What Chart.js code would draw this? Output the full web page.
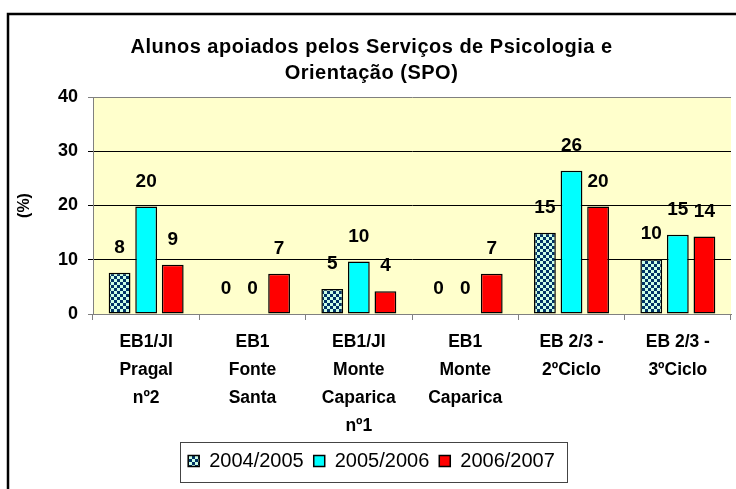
<!DOCTYPE html>
<html>
<head>
<meta charset="utf-8">
<script src="https://cdn.jsdelivr.net/npm/chart.js@4/dist/chart.umd.min.js"></script>
<style>
  html, body { margin: 0; padding: 0; background: #fff; }
  #wrap { width: 736px; height: 489px; position: relative; }
</style>
</head>
<body>
<div id="wrap"><canvas id="chart"></canvas></div>
<script>
// school names, split the way the chart wraps them
const schools = [
  ['EB1/JI', 'Pragal', 'nº2'],
  ['EB1', 'Fonte', 'Santa'],
  ['EB1/JI', 'Monte', 'Caparica', 'nº1'],
  ['EB1', 'Monte', 'Caparica'],
  ['EB 2/3 -', '2ºCiclo'],
  ['EB 2/3 -', '3ºCiclo']
];
const years = ['2004/2005', '2005/2006', '2006/2007'];
// percentages (labels show them rounded)
const values0405 = [7.6, 0, 4.6, 0, 15.0, 10.1];
const values0506 = [19.8, 0, 9.7, 0, 26.4, 14.6];
const values0607 = [9.1, 7.4, 4.2, 7.4, 19.8, 14.3];
const yMin = 0, yMax = 40, yStep = 10;

const FONT = '"Liberation Sans", Arial, sans-serif';
Chart.defaults.font.family = FONT;
Chart.defaults.color = '#000';

function checkerPattern() {
  const c = document.createElement('canvas');
  c.width = 6; c.height = 6;
  const g = c.getContext('2d');
  g.fillStyle = '#ccffe6';
  g.fillRect(0, 0, 6, 6);
  g.fillStyle = '#003366';
  g.fillRect(0, 0, 3, 3);
  g.fillRect(3, 3, 3, 3);
  return g.createPattern(c, 'repeat');
}

const canvas = document.getElementById('chart');
const ctx = canvas.getContext('2d');

const series = [values0405, values0506, values0607];
const fills = [checkerPattern(), '#00ffff', '#ff0000'];

const datasets = years.map((year, i) => ({
  label: year,
  data: series[i],
  backgroundColor: fills[i],
  borderColor: '#000',
  borderWidth: series[i].map(v => (v ? 1.5 : 0)),
  borderSkipped: false,
  categoryPercentage: 0.75,
  barPercentage: 0.82
}));

const backdrop = {
  id: 'backdrop',
  beforeDraw(chart) {
    const { ctx, chartArea: a } = chart;
    ctx.save();
    ctx.fillStyle = '#fff';
    ctx.fillRect(0, 0, chart.width, chart.height);
    ctx.fillStyle = '#ffffcc';
    ctx.fillRect(a.left, a.top, a.right - a.left, a.bottom - a.top);
    ctx.restore();
  }
};

// the original title is set a little loose, so widen its letters
const spacedTitle = {
  id: 'spacedTitle',
  afterInit(chart) {
    const block = chart.titleBlock;
    if (!block) return;
    const draw = block.draw.bind(block);
    block.draw = function (area) {
      chart.ctx.letterSpacing = '0.5px';
      draw(area);
      chart.ctx.letterSpacing = '0px';
    };
  }
};

const valueLabels = {
  id: 'valueLabels',
  afterDatasetsDraw(chart) {
    const ctx = chart.ctx;
    ctx.save();
    ctx.font = 'bold 19px ' + FONT;
    ctx.fillStyle = '#000';
    ctx.textAlign = 'center';
    ctx.textBaseline = 'middle';
    chart.data.datasets.forEach((ds, i) => {
      chart.getDatasetMeta(i).data.forEach((bar, j) => {
        ctx.fillText(String(Math.round(ds.data[j])), bar.x, bar.y - 25);
      });
    });
    ctx.restore();
  }
};

const frames = {
  id: 'frames',
  afterDraw(chart) {
    const ctx = chart.ctx;
    ctx.save();
    // outer chart frame
    ctx.strokeStyle = '#000';
    ctx.lineWidth = 2.5;
    ctx.strokeRect(8, 14, chart.width + 20, chart.height + 20);
    // box around the legend
    const boxes = chart.legend.legendHitBoxes;
    if (boxes && boxes.length) {
      const left = Math.min(...boxes.map(b => b.left)) - 8;
      const right = Math.max(...boxes.map(b => b.left + b.width)) + 12;
      const top = Math.min(...boxes.map(b => b.top)) - 9;
      const bottom = Math.max(...boxes.map(b => b.top + b.height)) + 11;
      ctx.lineWidth = 1;
      ctx.strokeStyle = '#444';
      ctx.strokeRect(Math.round(left) + 0.5, Math.round(top) + 0.5, Math.round(right - left), Math.round(bottom - top));
    }
    ctx.restore();
  }
};

new Chart(ctx, {
  type: 'bar',
  data: { labels: schools, datasets },
  options: {
    responsive: true,
    maintainAspectRatio: false,
    animation: false,
    layout: { padding: { left: 12, right: 5, top: 0, bottom: 8 } },
    scales: {
      x: {
        offset: true,
        afterFit(scale) { scale.height -= 7; },
        grid: {
          display: true,
          offset: true,
          drawOnChartArea: false,
          tickLength: 6,
          color: '#808080'
        },
        border: { color: '#808080' },
        ticks: {
          maxRotation: 0,
          autoSkip: false,
          padding: 8,
          font: { size: 17.5, weight: 'bold', lineHeight: 28 / 17.5 }
        }
      },
      y: {
        min: yMin,
        max: yMax,
        afterFit(scale) { scale.width = 81; },
        grid: {
          tickLength: 5,
          color: c => (c.tick && (c.tick.value === yMin || c.tick.value === yMax) ? '#808080' : '#000')
        },
        border: { color: '#808080' },
        ticks: {
          stepSize: yStep,
          padding: 10,
          font: { size: 18, weight: 'bold' }
        },
        title: {
          display: true,
          text: '(%)',
          padding: { top: 3, bottom: 0 },
          font: { size: 16, weight: 'bold' }
        }
      }
    },
    plugins: {
      title: {
        display: true,
        text: ['Alunos apoiados pelos Serviços de Psicologia e', 'Orientação (SPO)'],
        padding: { top: 34, bottom: 11 },
        font: { size: 20, weight: 'bold', lineHeight: 26 / 20 }
      },
      legend: {
        position: 'bottom',
        labels: {
          boxWidth: 11,
          boxHeight: 11,
          padding: 10,
          font: { size: 20 }
        }
      },
      tooltip: { enabled: false }
    }
  },
  plugins: [backdrop, spacedTitle, valueLabels, frames]
});
</script>
</body>
</html>
